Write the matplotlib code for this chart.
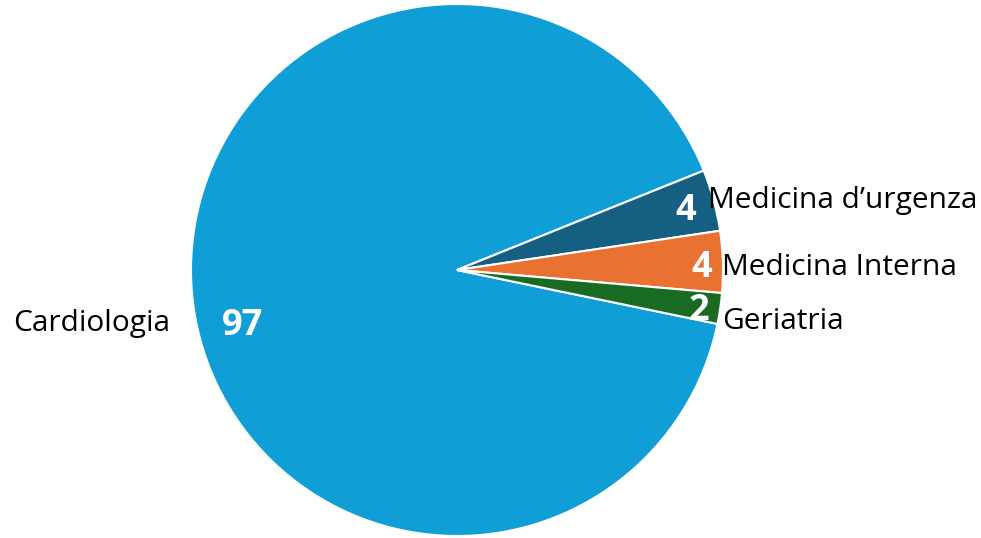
import matplotlib.pyplot as plt
import numpy as np

labels = ["Cardiologia", "Medicina d\u2019urgenza", "Medicina Interna", "Geriatria"]
values = [97, 4, 4, 2]
colors = ["#0F9ED5", "#156082", "#E97132", "#196B24"]

plt.rcParams['font.family'] = ['Open Sans', 'DejaVu Sans']

fig = plt.figure(figsize=(9.81, 5.38), dpi=100)
W, H = 981, 538
cx, cy, r = 457, 270, 266
ax = fig.add_axes([(cx - r) / W, (H - cy - r) / H, 2 * r / W, 2 * r / H])

wedges, _ = ax.pie(values, colors=colors, startangle=348.3, counterclock=False,
                   radius=1, wedgeprops=dict(edgecolor='white', linewidth=1.5))
ax.set_xlim(-1, 1)
ax.set_ylim(-1, 1)
ax.set_aspect('equal')
ax.axis('off')

# value labels: radius along mid-angle plus small nudges
num_r = [0.81, 0.89, 0.92, 0.92]
num_dy = [-0.14, -0.01, -0.02, -0.02]
# category labels: (x, dy from mid-angle point, alignment)
lab_x = [-1.08, 0.944, 0.996, 0.996]
lab_dy = [-0.11, 0.0, -0.02, -0.05]
lab_ha = ['right', 'left', 'left', 'left']

for w, v, lab, nr, ndy, lx, ldy, ha in zip(wedges, values, labels, num_r, num_dy,
                                            lab_x, lab_dy, lab_ha):
    mid = np.deg2rad((w.theta1 + w.theta2) / 2)
    ax.text(nr * np.cos(mid), nr * np.sin(mid) + ndy, str(v), color='white',
            fontsize=26, fontweight='bold', ha='center', va='center')
    ax.text(lx, np.sin(mid) + ldy, lab, color='black', fontsize=21.5,
            ha=ha, va='center')

fig.savefig('out.png', dpi=100, facecolor='white')
